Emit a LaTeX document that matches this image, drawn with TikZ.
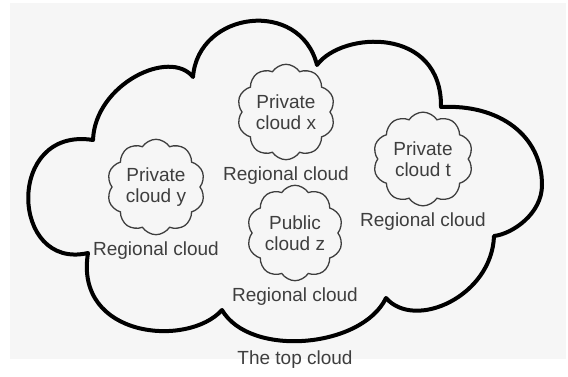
\documentclass[tikz,border=0pt]{standalone}
\usepackage{fontspec}
\setmainfont{Liberation Sans}
\usetikzlibrary{shapes.symbols,positioning}
\definecolor{bggrey}{RGB}{246,246,246}
\definecolor{inkgrey}{RGB}{62,62,62}
\tikzset{
  small cloud/.style={cloud, draw=inkgrey, line width=1.3pt, cloud puffs=10, cloud puff arc=115,
    inner sep=0pt, minimum width=98pt, minimum height=78pt, align=center, text=inkgrey,
    font=\fontsize{19}{21}\selectfont},
  region label/.style={text=inkgrey, inner sep=0pt, font=\fontsize{19}{21}\selectfont}
}
\begin{document}
\begin{tikzpicture}[x=1pt,y=1pt]
\useasboundingbox (0,0) rectangle (568,376);
\fill[bggrey] (10,17) rectangle (566,373);

%The top cloud
\coordinate (c1) at (93,236); \coordinate (c2) at (193,299); \coordinate (c3) at (317,311); \coordinate (c4) at (441,269);
\coordinate (c5) at (494,140); \coordinate (c6) at (386,78); \coordinate (c7) at (222,66); \coordinate (c8) at (88,123);
\coordinate (rim) at (542,191);
\draw[line width=4pt, line join=round] (c1) .. controls (95,292) and (170,328) .. (c2)
  .. controls (198,365) and (300,378) .. (c3) .. controls (342,345) and (442,350) .. (c4)
  .. controls (500,272) and (542,240) .. (rim) .. controls (542,162) and (512,142) .. (c5)
  .. controls (492,80) and (415,45) .. (c6) .. controls (362,28) and (250,18) .. (c7)
  .. controls (188,28) and (74,38) .. (c8) .. controls (10,105) and (5,250) .. cycle;
\node[region label] (top) at (295,16) {The top cloud};

%Regional clouds
\node[small cloud] (cx) at (286,264) {Private\\cloud x};
\node[region label, below=6pt of cx] (rx) {Regional cloud};
\node[small cloud, minimum height=74pt] (cy) at (156,189) {Private\\cloud y};
\node[region label, below=6pt of cy] (ry) {Regional cloud};
\node[small cloud, minimum width=96pt] (cz) at (295,143) {Public\\cloud z};
\node[region label, below=6pt of cz] (rz) {Regional cloud};
\node[small cloud, minimum width=100pt] (ct) at (423,217) {Private\\cloud t};
\node[region label, below=6pt of ct] (rt) {Regional cloud};

\end{tikzpicture}
\end{document}
